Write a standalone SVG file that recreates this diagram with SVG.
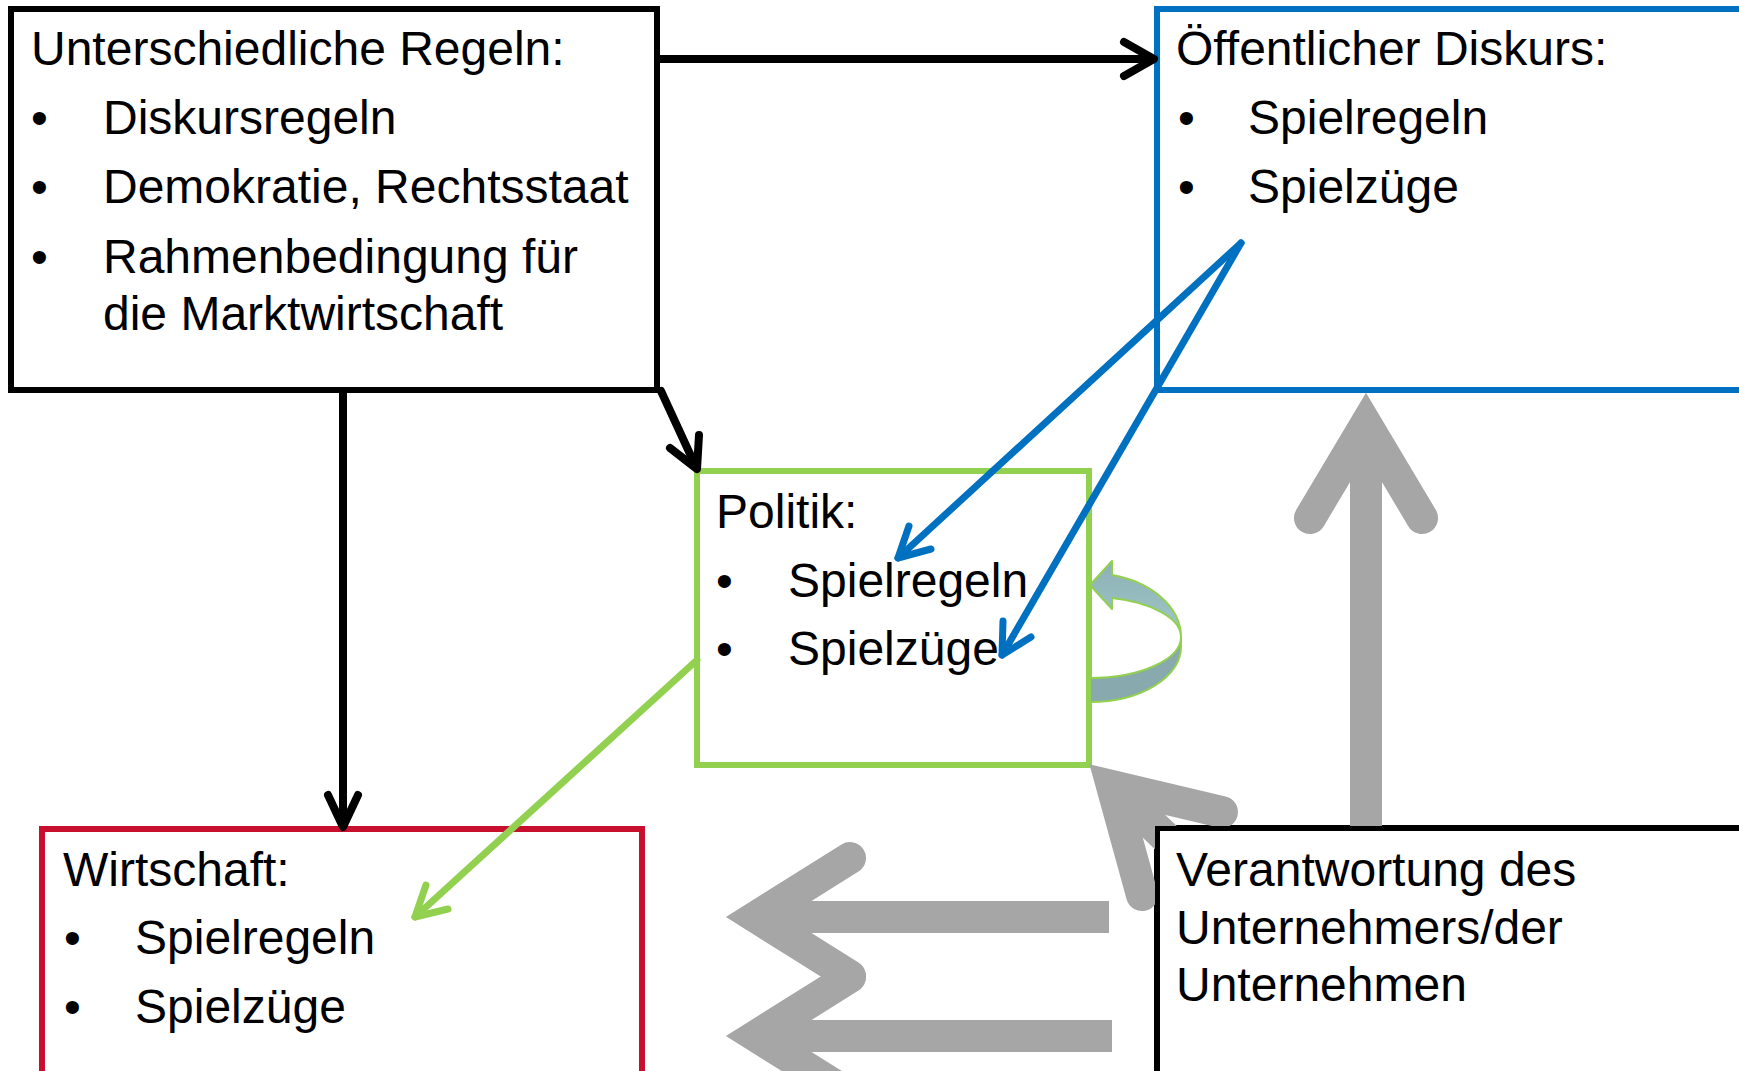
<svg xmlns="http://www.w3.org/2000/svg" width="1739" height="1071" viewBox="0 0 1739 1071">
  <style>
    .t { font-family: "Liberation Sans", Arial, sans-serif; font-size: 48px; fill: #000; }
    .box { fill: #fff; stroke-width: 6; }
    .blk { stroke: #000; }
    .blu { stroke: #0070C0; }
    .grn { stroke: #92D050; }
    .red { stroke: #C8102E; }
    .ln { fill: none; stroke-linecap: round; stroke-linejoin: round; }
    .gshaft { fill: none; stroke: #A6A6A6; stroke-width: 32; stroke-linecap: butt; }
    .ghead { fill: none; stroke: #A6A6A6; stroke-width: 32; stroke-linecap: round; stroke-linejoin: miter; stroke-miterlimit: 10; }
  </style>
  <defs>
    <linearGradient id="cgUp" x1="0" y1="0" x2="0" y2="1">
      <stop offset="0" stop-color="#8DB0B4"/>
      <stop offset="1" stop-color="#A0C8CC"/>
    </linearGradient>
    <clipPath id="notBox5">
      <path clip-rule="evenodd" d="M0,0 H1739 V1071 H0 Z M1155,826 H1739 V1071 H1155 Z"/>
    </clipPath>
  </defs>
  <rect x="0" y="0" width="1739" height="1071" fill="#fff"/>

  <g id="node-regeln">
    <rect class="box blk" x="11" y="9" width="646" height="381"/>
    <text class="t" x="31" y="65">Unterschiedliche Regeln:</text>
    <text class="t" x="31" y="134">•</text>
    <text class="t" x="103" y="134">Diskursregeln</text>
    <text class="t" x="31" y="203">•</text>
    <text class="t" x="103" y="203">Demokratie, Rechtsstaat</text>
    <text class="t" x="31" y="273">•</text>
    <text class="t" x="103" y="273">Rahmenbedingung für</text>
    <text class="t" x="103" y="330">die Marktwirtschaft</text>
  </g>

  <g id="node-diskurs">
    <rect class="box blu" x="1157" y="9" width="620" height="381"/>
    <text class="t" x="1176" y="65">Öffentlicher Diskurs:</text>
    <text class="t" x="1178" y="134">•</text>
    <text class="t" x="1248" y="134">Spielregeln</text>
    <text class="t" x="1178" y="203">•</text>
    <text class="t" x="1248" y="203">Spielzüge</text>
  </g>

  <g id="node-politik">
    <rect class="box grn" x="697" y="471" width="392" height="294"/>
    <text class="t" x="716" y="528">Politik:</text>
    <text class="t" x="716" y="597">•</text>
    <text class="t" x="788" y="597">Spielregeln</text>
    <text class="t" x="716" y="665">•</text>
    <text class="t" x="788" y="665">Spielzüge</text>
  </g>

  <g id="node-wirtschaft">
    <rect class="box red" x="42" y="829" width="600" height="300"/>
    <text class="t" x="63" y="886">Wirtschaft:</text>
    <text class="t" x="64" y="954">•</text>
    <text class="t" x="135" y="954">Spielregeln</text>
    <text class="t" x="64" y="1023">•</text>
    <text class="t" x="135" y="1023">Spielzüge</text>
  </g>

  <g id="node-verantwortung">
    <rect class="box blk" x="1157" y="828" width="620" height="300"/>
    <text class="t" x="1176" y="886">Verantwortung des</text>
    <text class="t" x="1176" y="944">Unternehmers/der</text>
    <text class="t" x="1176" y="1001">Unternehmen</text>
  </g>

  <g id="connectors">
    <!-- big grey arrows -->
    <g id="grey-up">
      <line class="gshaft" x1="1366" y1="430" x2="1366" y2="826"/>
      <polyline class="ghead" points="1310,518 1366,424 1422,518"/>
    </g>
    <g id="grey-diag" clip-path="url(#notBox5)">
      <line class="gshaft" x1="1112" y1="786" x2="1210" y2="880"/>
      <polyline class="ghead" points="1222,812 1112,786 1142,895"/>
    </g>
    <g id="grey-left-1">
      <line class="gshaft" x1="760" y1="917" x2="1109" y2="917"/>
      <polyline class="ghead" points="850,858 756,917 850,976"/>
    </g>
    <g id="grey-left-2">
      <line class="gshaft" x1="760" y1="1036" x2="1112" y2="1036"/>
      <polyline class="ghead" points="850,977 756,1036 850,1095"/>
    </g>

    <!-- black arrows -->
    <g class="ln blk" stroke-width="8">
      <line x1="660" y1="59" x2="1152" y2="59"/>
      <polyline points="1124,42 1154,59 1124,76"/>
      <line x1="343" y1="392" x2="343" y2="825"/>
      <polyline points="328,795 343,827 358,795"/>
      <line x1="661" y1="391" x2="696" y2="467"/>
      <polyline points="670,448 697,469 699,435"/>
    </g>

    <!-- blue arrows -->
    <g class="ln blu" stroke-width="7">
      <line x1="1241" y1="243" x2="898" y2="558"/>
      <polyline points="909,526 898,558 931,549"/>
      <line x1="1241" y1="243" x2="1002" y2="655"/>
      <polyline points="1003,621 1002,655 1031,637"/>
    </g>

    <!-- green arrow -->
    <g class="ln grn" stroke-width="7">
      <line x1="697" y1="660" x2="415" y2="917"/>
      <polyline points="426,885 415,917 448,909"/>
    </g>

    <!-- curved self arrow -->
    <g id="curved-arrow" stroke="#92D050" stroke-width="2" stroke-linejoin="round">
      <path fill="url(#cgUp)" d="M1112,575 A91,64 0 0 1 1181,637 A91,40 0 0 0 1112,598 L1112,609 L1090,585 L1112,561 Z"/>
      <path fill="#88A9AD" d="M1090,678 A91,41 0 0 0 1181,637 L1181,647 A91,55 0 0 1 1090,702 Z"/>
    </g>
  </g>
</svg>
